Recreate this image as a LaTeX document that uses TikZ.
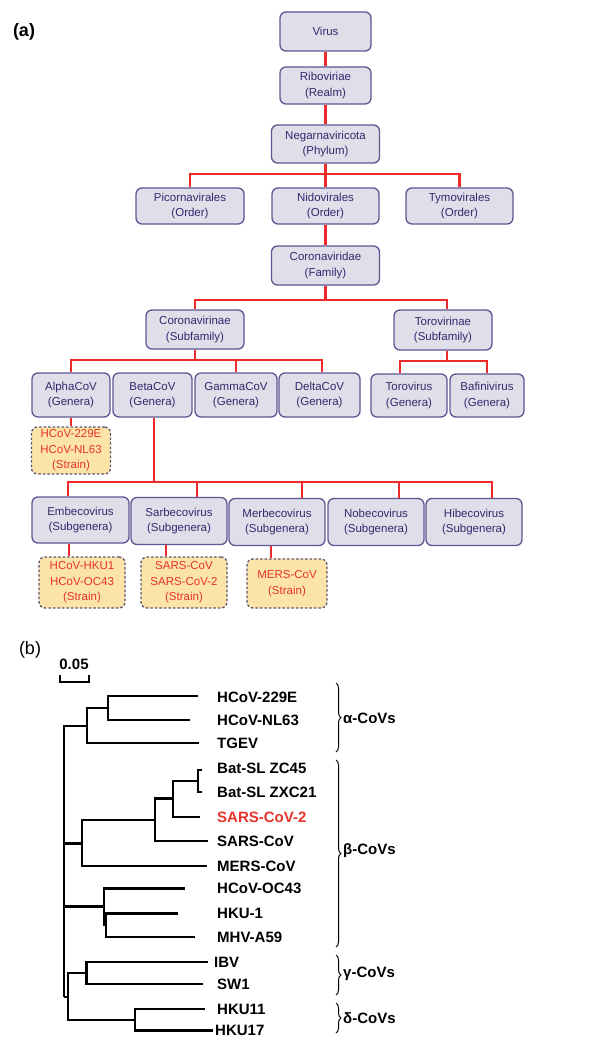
\documentclass[tikz,border=0pt]{standalone}
\usepackage{fontspec}
\setmainfont{Liberation Sans}
\usetikzlibrary{decorations.pathreplacing}
\definecolor{boxfill}{HTML}{DFDFE9}
\definecolor{boxline}{HTML}{5F5592}
\definecolor{boxtext}{HTML}{33286E}
\definecolor{strainfill}{HTML}{FCE3A8}
\definecolor{strainline}{HTML}{5B5470}
\definecolor{linkred}{HTML}{EE2A2A}
\definecolor{strainred}{HTML}{E8332A}
\begin{document}
\begin{tikzpicture}[x=1pt,y=-1pt,
    taxon/.style={draw=boxline, fill=boxfill, line width=1.3pt, rounded corners=6pt, text=boxtext,
      align=center, inner sep=0pt, font=\fontsize{11.5}{15.5}\selectfont},
    strain/.style={taxon, draw=strainline, fill=strainfill, text=strainred, dash pattern=on 2.5pt off 2pt},
    link/.style={draw=linkred, line width=2.2pt},
    branch/.style={line width=2.2pt},
    leaf/.style={anchor=west, inner sep=0pt, font=\fontsize{15}{15}\selectfont\bfseries},
    clade/.style={decorate, decoration={brace, amplitude=5pt}, line width=1pt}]
\useasboundingbox (0,0) rectangle (610,1038);

% (a) taxonomy
\node[font=\fontsize{18}{18}\selectfont\bfseries] (la) at (24,32) {(a)};

\node[taxon, minimum width=91pt, minimum height=39pt] (virus) at (325.5,31.5) {Virus};
\node[taxon, minimum width=91pt, minimum height=37pt] (ribo) at (325.5,85.5) {Riboviriae\\(Realm)};
\node[taxon, minimum width=108pt, minimum height=38pt] (negar) at (325.5,144) {Negarnaviricota\\(Phylum)};
\node[taxon, minimum width=108pt, minimum height=36pt] (picorna) at (190,206) {Picornavirales\\(Order)};
\node[taxon, minimum width=107pt, minimum height=36pt] (nido) at (325.5,206) {Nidovirales\\(Order)};
\node[taxon, minimum width=107pt, minimum height=36pt] (tymo) at (459.5,206) {Tymovirales\\(Order)};
\node[taxon, minimum width=108pt, minimum height=39pt] (corvd) at (325.5,265.5) {Coronaviridae\\(Family)};
\node[taxon, minimum width=98pt, minimum height=39pt] (corvn) at (195,329.5) {Coronavirinae\\(Subfamily)};
\node[taxon, minimum width=98pt, minimum height=40pt] (torvn) at (443,330) {Torovirinae\\(Subfamily)};

\node[taxon, minimum width=78pt, minimum height=44pt] (alpha) at (71,395) {AlphaCoV\\(Genera)};
\node[taxon, minimum width=79pt, minimum height=44pt] (beta) at (152.5,395) {BetaCoV\\(Genera)};
\node[taxon, minimum width=82pt, minimum height=44pt] (gamma) at (236,395) {GammaCoV\\(Genera)};
\node[taxon, minimum width=81pt, minimum height=44pt] (delta) at (319.5,395) {DeltaCoV\\(Genera)};
\node[taxon, minimum width=76pt, minimum height=43pt] (torov) at (409,395.5) {Torovirus\\(Genera)};
\node[taxon, minimum width=74pt, minimum height=43pt] (bafin) at (487,395.5) {Bafinivirus\\(Genera)};

\node[strain, minimum width=79pt, minimum height=47pt] (salpha) at (71,450.5) {HCoV-229E\\HCoV-NL63\\(Strain)};

\node[taxon, minimum width=97pt, minimum height=46pt] (embe) at (80.5,520) {Embecovirus\\(Subgenera)};
\node[taxon, minimum width=96pt, minimum height=47pt] (sarbe) at (179,521) {Sarbecovirus\\(Subgenera)};
\node[taxon, minimum width=96pt, minimum height=47pt] (merbe) at (277,522) {Merbecovirus\\(Subgenera)};
\node[taxon, minimum width=96pt, minimum height=47pt] (nobe) at (376,522) {Nobecovirus\\(Subgenera)};
\node[taxon, minimum width=96pt, minimum height=47pt] (hibe) at (474,522) {Hibecovirus\\(Subgenera)};

\node[strain, minimum width=86pt, minimum height=51pt] (sembe) at (82,582.5) {HCoV-HKU1\\HCoV-OC43\\(Strain)};
\node[strain, minimum width=86pt, minimum height=51pt] (ssarbe) at (184,582.5) {SARS-CoV\\SARS-CoV-2\\(Strain)};
\node[strain, minimum width=80pt, minimum height=49pt] (smerbe) at (287,583.5) {MERS-CoV\\(Strain)};

% red connectors
\coordinate (b1) at (325.5,174);
\coordinate (b2) at (325.5,300);
\coordinate (b3) at (195,360);
\coordinate (b4) at (447,361);
\coordinate (b5) at (154,482);
\draw[link] (virus) -- (ribo);
\draw[link] (ribo) -- (negar);
\draw[link] (negar) -- (nido);
\draw[link] (picorna) |- (b1) -| (tymo);
\draw[link] (nido) -- (corvd);
\draw[link] (corvd) -- (b2);
\draw[link] (corvn) |- (b2) -| ([xshift=4pt]torvn.north);
\draw[link] (corvn) -- (b3);
\draw[link] (alpha) |- (b3) -| ([xshift=2.5pt]delta.north);
\draw[link] (gamma) -- (gamma |- b3);
\draw[link] ([xshift=4pt]torvn.south) -- (b4);
\draw[link] ([xshift=-9pt]torov.north) |- (b4) -| (bafin);
\draw[link] (alpha) -- (salpha);
\draw[link] ([xshift=1.5pt]beta.south) -- (b5);
\draw[link] ([xshift=-12.5pt]embe.north) |- (b5) -| ([xshift=18pt]hibe.north);
\draw[link] ([xshift=18pt]sarbe.north) -- ([xshift=18pt]sarbe.north |- b5);
\draw[link] ([xshift=25pt]merbe.north) -- ([xshift=25pt]merbe.north |- b5);
\draw[link] ([xshift=23pt]nobe.north) -- ([xshift=23pt]nobe.north |- b5);
\draw[link] ([xshift=-11.5pt]embe.south) -- ([xshift=-11.5pt]embe.south |- sembe.north);
\draw[link] ([xshift=-13pt]sarbe.south) -- ([xshift=-13pt]sarbe.south |- ssarbe.north);
\draw[link] ([xshift=-6pt]merbe.south) -- ([xshift=-6pt]merbe.south |- smerbe.north);

% (b) tree
\node[font=\fontsize{18}{18}\selectfont] (lb) at (30,650) {(b)};
\node[font=\fontsize{15}{15}\selectfont\bfseries] (scale) at (74,664) {0.05};
\draw[branch] (60,675) -- (60,682) -- (89,682) -- (89,675);

\node[leaf] (l1) at (217,697) {HCoV-229E};
\node[leaf] (l2) at (217,720) {HCoV-NL63};
\node[leaf] (l3) at (217,743) {TGEV};
\node[leaf] (l4) at (217,768) {Bat-SL ZC45};
\node[leaf] (l5) at (217,792) {Bat-SL ZXC21};
\node[leaf, text=strainred] (l6) at (217,817) {SARS-CoV-2};
\node[leaf] (l7) at (217,841) {SARS-CoV};
\node[leaf] (l8) at (217,866) {MERS-CoV};
\node[leaf] (l9) at (217,888.5) {HCoV-OC43};
\node[leaf] (l10) at (217,913.5) {HKU-1};
\node[leaf] (l11) at (217,937) {MHV-A59};
\node[leaf] (l12) at (214,962) {IBV};
\node[leaf] (l13) at (217,984) {SW1};
\node[leaf] (l14) at (217,1009) {HKU11};
\node[leaf] (l15) at (215,1030.5) {HKU17};

% alpha
\draw[branch] (198,696) -- (108,696) -- (108,720) -- (190,720);
\draw[branch] (108,708) -- (87,708) -- (87,743) -- (199,743);
\draw[branch] (87,726) -- (64,726) -- (64,997);
% beta
\draw[branch] (201.5,770) -- (198,770) -- (198,792) -- (201.5,792);
\draw[branch] (198,781) -- (173,781) -- (173,817) -- (200,817);
\draw[branch] (173,798.5) -- (155,798.5) -- (155,841) -- (208,841);
\draw[branch] (155,820) -- (82,820) -- (82,866) -- (206.5,866);
\draw[branch] (82,843.5) -- (64,843.5);
\draw[branch] (178,913.5) -- (106,913.5) -- (106,937) -- (195,937);
\draw[branch] (185,888.5) -- (104,888.5) -- (104,925) -- (106,925);
\draw[branch] (104,906.5) -- (64,906.5);
% gamma, delta
\draw[branch] (208,962) -- (86.5,962) -- (86.5,984) -- (203,984);
\draw[branch] (205,1009) -- (135,1009) -- (135,1030.5) -- (213,1030.5);
\draw[branch] (86.5,973) -- (68,973) -- (68,1020) -- (135,1020);
\draw[branch] (68,997) -- (64,997);

% clade braces
\draw[clade] (336,683) -- (336,752);
\draw[clade] (336,760) -- (336,947);
\draw[clade] (336,955) -- (336,995);
\draw[clade] (336,1003) -- (336,1033);
\node[leaf] (ca) at (343,718) {α-CoVs};
\node[leaf] (cb) at (343,851) {β-CoVs};
\node[leaf] (cg) at (343,974) {γ-CoVs};
\node[leaf] (cd) at (343,1018) {δ-CoVs};
\end{tikzpicture}
\end{document}
